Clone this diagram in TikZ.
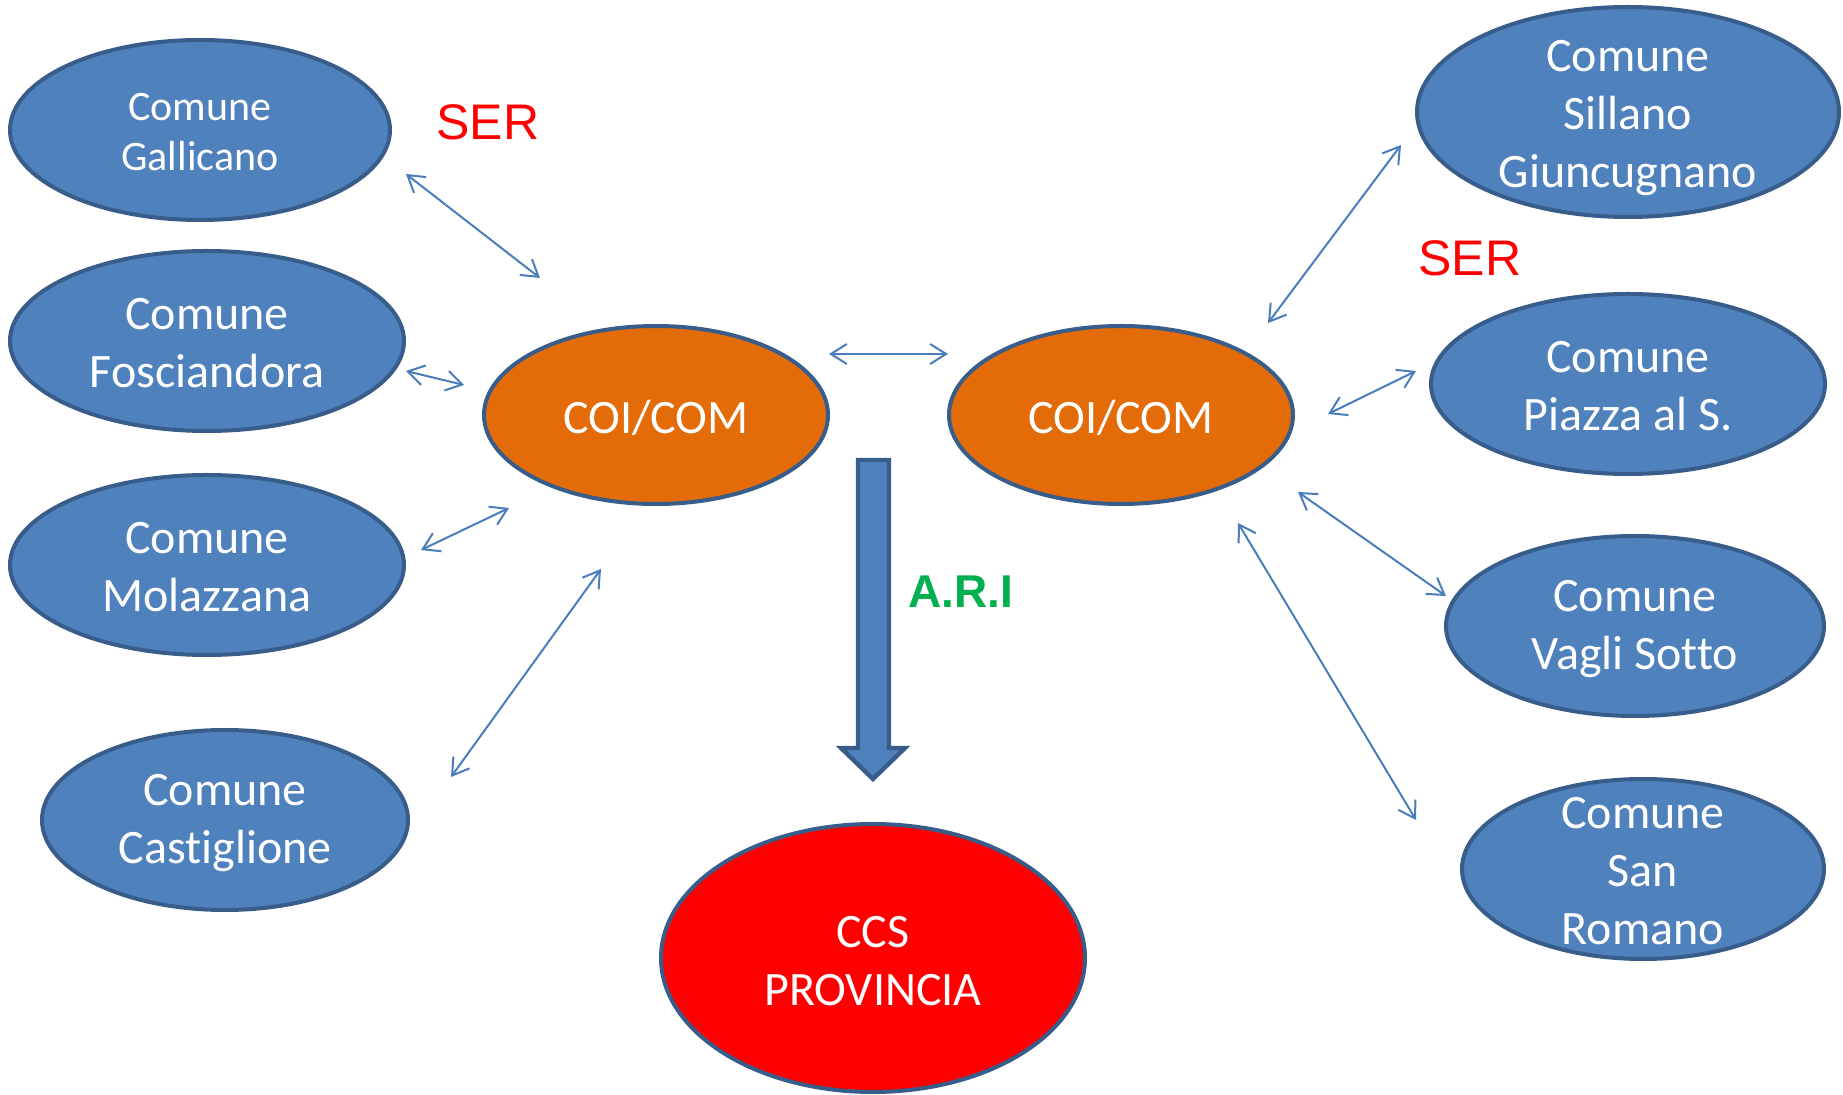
\documentclass[tikz,border=0pt]{standalone}
\usepackage{fontspec}
\setmainfont{Carlito}[Ligatures=NoCommon]
\newfontfamily\arialf{Liberation Sans}
\usetikzlibrary{shapes.geometric,arrows.meta}
\definecolor{cblue}{HTML}{4F81BD}
\definecolor{cborder}{HTML}{385D8A}
\definecolor{corange}{HTML}{E36C09}
\definecolor{cline}{HTML}{4A7EBB}
\definecolor{cgreen}{HTML}{00B050}
\begin{document}
\begin{tikzpicture}[x=0.5pt,y=-0.5pt,
  ell/.style={ellipse, draw=cborder, line width=2pt, inner sep=0pt, outer sep=0pt},
  sz/.style 2 args={minimum width=#1pt, minimum height=#2pt},
  comune/.style={ell, fill=cblue},
  coi/.style={ell, fill=corange},
  ccs/.style={ell, fill=red},
  txt/.style={label={[text=white, align=center, yshift=-1.3pt, font=\fontsize{24}{29}\selectfont]center:#1}},
  txtt/.style={label={[text=white, align=center, yshift=-2.8pt, font=\fontsize{24}{29}\selectfont]center:#1}},
  txts/.style={label={[text=white, align=center, yshift=-1.2pt, font=\fontsize{21}{25}\selectfont]center:#1}},
  link/.style={draw=cline, line width=1pt, {Straight Barb[length=8pt,width=10pt]}-{Straight Barb[length=8pt,width=10pt]}},
  serlbl/.style={font=\arialf\fontsize{25}{30}\selectfont, text=red},
  arilbl/.style={font=\arialf\bfseries\fontsize{23}{28}\selectfont, text=cgreen},
  blockarrow/.style={fill=cblue, draw=cborder, line width=2.2pt, line join=miter}
]
\useasboundingbox (0,0) rectangle (1843,1095);

% left comuni
\node[comune, sz={190}{90}, txts={Comune\\Gallicano}] (gal) at (200,130) {};
\node[comune, sz={197}{90}, txt={Comune\\Fosciandora}] (fos) at (207,341) {};
\node[comune, sz={197}{90}, txt={Comune\\Molazzana}] (mol) at (207,565) {};
\node[comune, sz={183}{90}, txt={Comune\\Castiglione}] (cas) at (225,820) {};

% COI/COM
\node[coi, sz={172}{89}, txt={COI/COM}] (coil) at (656,415) {};
\node[coi, sz={172}{89}, txt={COI/COM}] (coir) at (1121,415) {};

% CCS
\node[ccs, sz={212}{134}, txt={CCS\\PROVINCIA}] (ccs) at (873,958) {};

% right comuni
\node[comune, sz={211}{105}, txtt={Comune\\Sillano\\Giuncugnano}] (sil) at (1628,112) {};
\node[comune, sz={197}{90}, txt={Comune\\Piazza al S.}] (pia) at (1628,384) {};
\node[comune, sz={189}{90}, txt={Comune\\Vagli Sotto}] (vag) at (1635,626) {};
\node[comune, sz={181}{90}, txt={Comune\\San\\Romano}] (sro) at (1643,869) {};

% labels
\node[serlbl] (serl) at (488,122) {SER};
\node[serlbl] (serr) at (1470,258) {SER};
\node[arilbl] (ari) at (961,592) {A.R.I};

% connector end points
\coordinate (galA) at (406,174);  \coordinate (galB) at (540,278);
\coordinate (fosA) at (406,371);  \coordinate (fosB) at (464,385);
\coordinate (molA) at (421,550);  \coordinate (molB) at (509,508);
\coordinate (casA) at (451,777);  \coordinate (casB) at (601,569);
\coordinate (coiA) at (829,354);  \coordinate (coiB) at (948,354);
\coordinate (silA) at (1401,145); \coordinate (silB) at (1268,323);
\coordinate (piaA) at (1416,371); \coordinate (piaB) at (1328,414);
\coordinate (vagA) at (1298,492); \coordinate (vagB) at (1446,596);
\coordinate (sroA) at (1238,523); \coordinate (sroB) at (1416,820);

\draw[link] (galA) -- (galB);
\draw[link] (fosA) -- (fosB);
\draw[link] (molA) -- (molB);
\draw[link] (casA) -- (casB);
\draw[link] (coiA) -- (coiB);
\draw[link] (silA) -- (silB);
\draw[link] (piaA) -- (piaB);
\draw[link] (vagA) -- (vagB);
\draw[link] (sroA) -- (sroB);

% block arrow
\draw[blockarrow] (858,460) -- (889,460) -- (889,748) -- (905,748) -- (873,779)
  -- (841,748) -- (858,748) -- cycle;
\end{tikzpicture}
\end{document}
